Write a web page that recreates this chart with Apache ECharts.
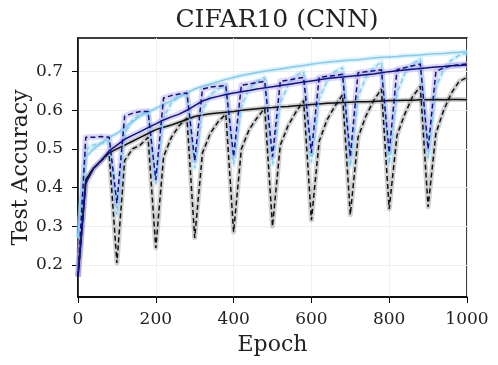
<!DOCTYPE html>
<html>
<head>
<meta charset="utf-8">
<script src="https://cdn.jsdelivr.net/npm/echarts@6/dist/echarts.min.js"></script>
<style>
  html, body { margin: 0; padding: 0; background: #fff; }
  #chart { width: 498px; height: 365px; }
</style>
</head>
<body>
<div id="chart"></div>
<script>
// epochs (x positions of the samples)
const epochs = [0, 20, 40, 60, 80, 100, 120, 140, 160, 180, 200, 220, 240, 260, 280, 300, 320, 340, 360, 380,
  400, 420, 440, 460, 480, 500, 520, 540, 560, 580, 600, 620, 640, 660, 680, 700, 720, 740, 760, 780,
  800, 820, 840, 860, 880, 900, 920, 940, 960, 980, 1000];

// black solid
const blackSolid = [0.17, 0.42, 0.45, 0.47, 0.49, 0.50, 0.51, 0.52, 0.53, 0.54, 0.55, 0.556, 0.562, 0.569, 0.576, 0.584, 0.588, 0.591, 0.593, 0.595,
  0.597, 0.600, 0.602, 0.604, 0.606, 0.607, 0.609, 0.610, 0.612, 0.613, 0.615, 0.616, 0.618, 0.619, 0.620, 0.621, 0.622, 0.622, 0.623, 0.624,
  0.625, 0.625, 0.626, 0.626, 0.627, 0.627, 0.628, 0.627, 0.628, 0.628, 0.627];

// black dashed (reset every 100 epochs)
const blackDashed = [0.17, 0.42, 0.45, 0.47, 0.49, 0.205, 0.47, 0.50, 0.51, 0.53, 0.244, 0.48, 0.53, 0.56, 0.58, 0.27, 0.49, 0.54, 0.57, 0.59,
  0.285, 0.50, 0.55, 0.58, 0.605, 0.30, 0.51, 0.56, 0.595, 0.625, 0.316, 0.52, 0.575, 0.61, 0.64, 0.33, 0.53, 0.585, 0.625, 0.655,
  0.345, 0.535, 0.59, 0.635, 0.662, 0.35, 0.54, 0.60, 0.645, 0.675, 0.685];

// light blue solid
const lightSolid = [0.27, 0.48, 0.50, 0.515, 0.53, 0.54, 0.555, 0.57, 0.585, 0.595, 0.605, 0.615, 0.625, 0.635, 0.645, 0.655, 0.662, 0.668, 0.674, 0.68,
  0.685, 0.69, 0.694, 0.698, 0.701, 0.704, 0.707, 0.71, 0.713, 0.716, 0.719, 0.722, 0.724, 0.726, 0.728, 0.73, 0.731, 0.733, 0.735, 0.737,
  0.738, 0.739, 0.741, 0.742, 0.743, 0.745, 0.746, 0.747, 0.749, 0.75, 0.752];

// light blue dashed
const lightDashed = [0.27, 0.50, 0.51, 0.515, 0.52, 0.33, 0.54, 0.575, 0.59, 0.60, 0.41, 0.58, 0.62, 0.635, 0.645, 0.45, 0.60, 0.64, 0.655, 0.665,
  0.46, 0.61, 0.655, 0.675, 0.685, 0.46, 0.62, 0.665, 0.69, 0.70, 0.466, 0.63, 0.675, 0.70, 0.71, 0.454, 0.635, 0.685, 0.71, 0.725,
  0.46, 0.645, 0.695, 0.72, 0.733, 0.476, 0.66, 0.705, 0.73, 0.742, 0.748];

// navy solid
const navySolid = [0.17, 0.41, 0.45, 0.47, 0.495, 0.51, 0.525, 0.535, 0.545, 0.555, 0.565, 0.575, 0.583, 0.59, 0.60, 0.612, 0.624, 0.631, 0.636, 0.641,
  0.645, 0.648, 0.651, 0.655, 0.658, 0.661, 0.664, 0.667, 0.67, 0.673, 0.676, 0.679, 0.682, 0.684, 0.686, 0.688, 0.69, 0.692, 0.694, 0.697,
  0.70, 0.702, 0.704, 0.706, 0.708, 0.71, 0.712, 0.713, 0.715, 0.716, 0.717];

// navy dashed
const navyDashed = [0.17, 0.53, 0.53, 0.532, 0.53, 0.36, 0.585, 0.592, 0.597, 0.597, 0.42, 0.632, 0.638, 0.642, 0.645, 0.47, 0.655, 0.66, 0.662, 0.664,
  0.48, 0.665, 0.668, 0.672, 0.675, 0.48, 0.675, 0.678, 0.682, 0.685, 0.49, 0.685, 0.688, 0.69, 0.693, 0.48, 0.697, 0.70, 0.702, 0.705,
  0.49, 0.705, 0.71, 0.715, 0.72, 0.50, 0.70, 0.71, 0.715, 0.718, 0.72];

const xTicks = [0, 200, 400, 600, 800, 1000];
const yTicks = [0.2, 0.3, 0.4, 0.5, 0.6, 0.7];

const FONT = 'DejaVu Serif';

function pts(vals) {
  return epochs.map((e, i) => [e, vals[i]]);
}

// band (wide pale line) + main line for one run
function run(vals, color, bandColor, bandWidth, dashed) {
  return [
    {
      type: 'line', data: pts(vals), symbol: 'none', silent: true, z: 1,
      lineStyle: { color: bandColor, width: bandWidth, opacity: 0.4, join: 'round' }
    },
    {
      type: 'line', data: pts(vals), symbol: 'none', z: 3,
      lineStyle: { color: color, width: 1.5, type: dashed ? [5, 3] : 'solid' }
    }
  ];
}

var myChart = echarts.init(document.getElementById('chart'));
var option = {
  animation: false,
  title: {
    text: 'CIFAR10 (CNN)',
    left: 272, top: 3, textAlign: 'center',
    textStyle: { fontFamily: FONT, fontSize: 25, fontWeight: 'normal', color: '#222' }
  },
  grid: {
    left: 78, right: 31, top: 38, bottom: 68,
    containLabel: false, outerBoundsMode: 'none',
    show: true, borderColor: '#000', borderWidth: 1.5
  },
  xAxis: {
    type: 'value', min: 0, max: 1000, interval: 200,
    name: 'Epoch', nameLocation: 'middle', nameGap: 37,
    nameTextStyle: { fontFamily: FONT, fontSize: 22, color: '#222' },
    axisLine: { lineStyle: { color: '#000', width: 1.5 } },
    axisTick: { lineStyle: { color: '#000' }, length: 6 },
    axisLabel: { fontFamily: FONT, fontSize: 17, color: '#222', margin: 14,
      formatter: v => String(v) },
    splitLine: { lineStyle: { color: '#efefef' } }
  },
  yAxis: {
    type: 'value', min: 0.117, max: 0.787,
    name: 'Test Accuracy', nameLocation: 'middle', nameGap: 46, nameMoveOverlap: false,
    nameTextStyle: { fontFamily: FONT, fontSize: 22, color: '#222' },
    axisLine: { show: true, lineStyle: { color: '#000', width: 1.5 } },
    axisTick: { show: true, customValues: yTicks, lineStyle: { color: '#000' }, length: 6 },
    axisLabel: { customValues: yTicks, fontFamily: FONT, fontSize: 17, color: '#222', margin: 15,
      formatter: v => v.toFixed(1) },
    splitLine: { lineStyle: { color: '#efefef' } }
  },
  series: [].concat(
    run(blackSolid, '#111111', '#8c8c8c', 5, false),
    run(blackDashed, '#111111', '#8c8c8c', 5, true),
    run(lightSolid, '#80cbf0', '#a9def5', 5, false),
    run(lightDashed, '#80cbf0', '#a9def5', 5, true),
    run(navySolid, '#10108a', '#a69de0', 6, false),
    run(navyDashed, '#10108a', '#a69de0', 6, true)
  )
};
option && myChart.setOption(option);
</script>
</body>
</html>
